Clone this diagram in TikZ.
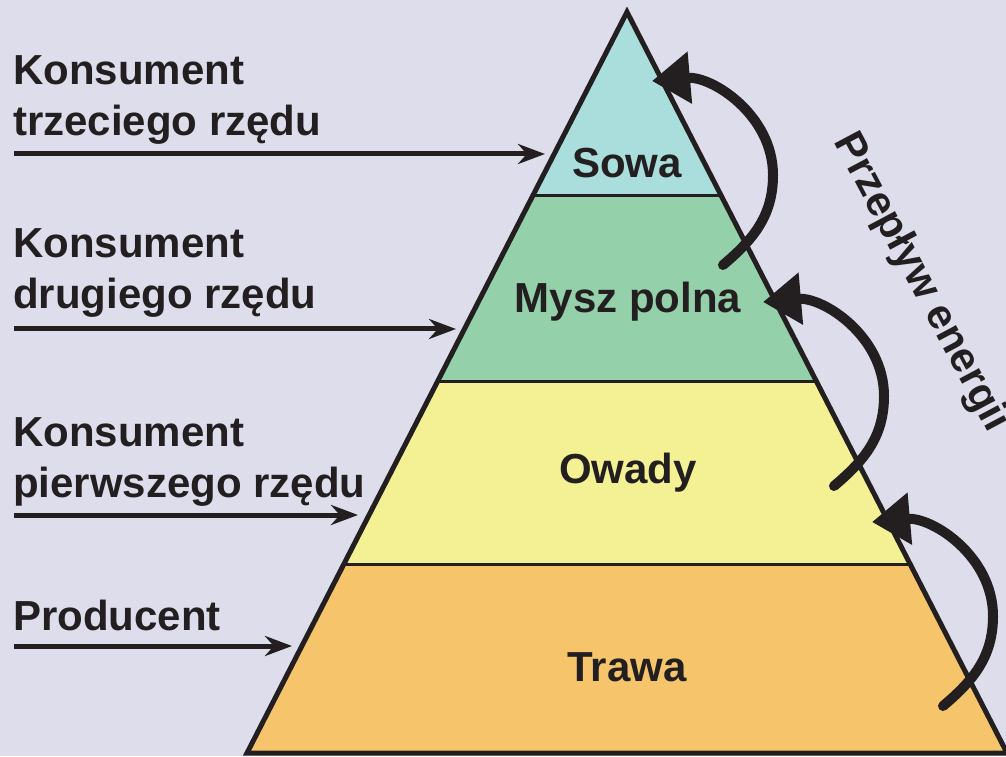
\documentclass[tikz,border=0pt]{standalone}
\usepackage{fontspec}
\setmainfont{Liberation Sans}
\usetikzlibrary{calc,arrows.meta}

\definecolor{bg}{HTML}{DEDDEC}
\definecolor{ink}{HTML}{231F20}
\definecolor{sowa}{HTML}{A9DEDC}
\definecolor{mysz}{HTML}{94D0A9}
\definecolor{owady}{HTML}{F4F195}
\definecolor{trawa}{HTML}{F6C46A}

\tikzset{
  level/.style={draw=ink,line width=3},
  feed/.style={draw=ink,line width=5,-{Stealth[length=27,width=20]}},
  flow/.style={draw=ink,line width=10,line cap=round,-{Triangle[length=38,width=50]}},
}

\begin{document}
\begin{tikzpicture}[x=1pt,y=1pt,font=\bfseries\fontsize{42}{51}\selectfont,text=ink]

      \useasboundingbox[fill=bg] (0,0) rectangle (1006,756);

      \coordinate (apex) at (627,744);
      \coordinate (bl)   at (247,3);
      \coordinate (br)   at (1007,3);

      % bands
      \foreach \a/\b/\c in {0/0.248/sowa, 0.248/0.498/mysz, 0.498/0.745/owady, 0.745/1/trawa}
        \fill[\c] ($(apex)!\a!(bl)$) -- ($(apex)!\b!(bl)$) -- ($(apex)!\b!(br)$) -- ($(apex)!\a!(br)$) -- cycle;
      \foreach \f in {0.248,0.498,0.745}
        \draw[level] ($(apex)!\f!(bl)$) -- ($(apex)!\f!(br)$);
      \draw[ink,line width=5,line join=miter] (apex) -- (bl) -- (br) -- cycle;

      \begin{scope}[every node/.style={anchor=base,inner sep=0}]
        \node (sowa)  at (627,578) {Sowa};
        \node (mysz)  at (628,443) {Mysz polna};
        \node (owady) at (628,273) {Owady};
        \node (trawa) at (627,75)  {Trawa};
        \node[rotate=-62] (przeplyw) at (911,468) {Przepływ energii};
      \end{scope}

      % base anchor = last line
      \begin{scope}[every node/.style={anchor=base west,align=left,inner sep=0}]
        \node (k3) at (13,620) {Konsument\\trzeciego rzędu};
        \node (k2) at (13,447) {Konsument\\drugiego rzędu};
        \node (k1) at (13,259) {Konsument\\pierwszego rzędu};
        \node (pr) at (13,126) {Producent};
      \end{scope}

      % arrows to the levels
      \foreach \n/\y/\x in {k3/602/545, k2/427/456, k1/241/358, pr/110/292} {
        \coordinate (\n-a) at (14,\y);
        \coordinate (\n-b) at (\x,\y);
        \draw[feed] (\n-a) -- (\n-b);
      }

      % energy flow
      \foreach \i/\x/\y in {1/652/675, 2/763/454, 3/872/234} {
        \coordinate (h\i) at (\x,\y);
        \coordinate (r\i) at (\x+121,\y-94);
        \coordinate (t\i) at (\x+71,\y-184);
        \draw[flow] (t\i) to[out=40,in=-90] (r\i) to[out=90,in=5] (h\i);
      }

\end{tikzpicture}
\end{document}
